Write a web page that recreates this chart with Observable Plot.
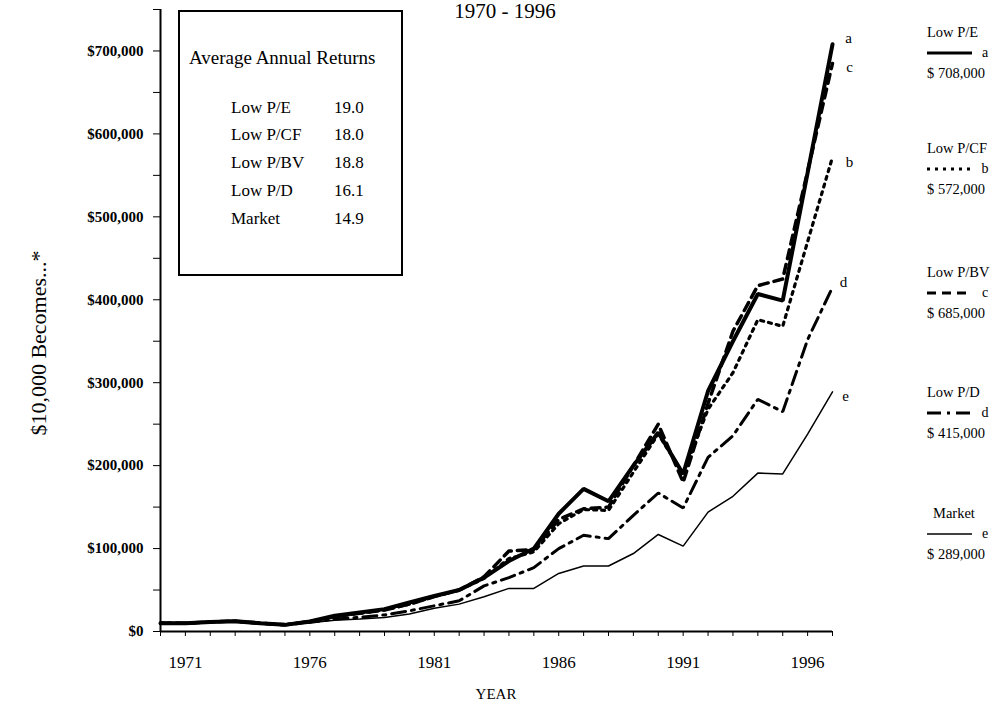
<!DOCTYPE html>
<html><head><meta charset="utf-8">
<script src="https://cdn.jsdelivr.net/npm/d3@7"></script>
<script src="https://cdn.jsdelivr.net/npm/@observablehq/plot@0.6"></script>
<style>
body{margin:0;background:#fff}
#chart{position:relative;width:1007px;height:702px;overflow:hidden}
</style>
</head><body><div id="chart"></div>
<script>
// ---- data (values in $ thousands) ----
const years = d3.range(1970, 1998);
const seriesKeys = ["a", "b", "c", "d", "e"];
const seriesNames = ["Low P/E", "Low P/CF", "Low P/BV", "Low P/D", "Market"];
const finalValues = ["$ 708,000", "$ 572,000", "$ 685,000", "$ 415,000", "$ 289,000"];
const avgReturns = ["19.0", "18.0", "18.8", "16.1", "14.9"];
const lowPE  = [10, 10, 11.5, 12.5, 10, 8, 12, 19, 23, 27, 35, 43, 50, 65, 85, 100, 142, 172, 157, 200, 240, 190, 290, 350, 407, 399, 553, 708];
const lowPCF = [10, 10, 11.5, 12.5, 10, 8, 12, 18, 22, 26, 33, 42, 50, 64, 88, 96, 130, 147, 146, 192, 238, 190, 268, 312, 376, 368, 470, 572];
const lowPBV = [10, 10, 11.5, 12.5, 10, 8, 12, 18, 22, 26, 33, 42, 50, 66, 97, 99, 135, 148, 150, 200, 250, 180, 275, 362, 417, 425, 555, 685];
const lowPD  = [10, 10, 11.5, 12.5, 10, 8, 11, 15, 17, 20, 25, 31, 37, 55, 65, 77, 100, 116, 112, 140, 167, 149, 210, 236, 280, 265, 352, 415];
const market = [10, 10, 11.5, 12.5, 10, 7.5, 10.5, 13.5, 15, 17, 21, 28, 33, 42, 52, 52, 70, 79, 79, 94, 117, 103, 144, 163, 191, 190, 238, 289];
const yTicks = d3.range(0, 750001, 50000);
const xTickLabels = [1971, 1976, 1981, 1986, 1991, 1996];

const seriesValues = [lowPE, lowPCF, lowPBV, lowPD, market];
const rows = [];
seriesKeys.forEach((k, si) => seriesValues[si].forEach((v, i) => rows.push({key: k, year: years[i], value: v * 1000})));
const ends = seriesKeys.map((k, si) => ({key: k, year: years[years.length - 1], value: seriesValues[si][years.length - 1] * 1000}));

// ---- styles ----
const style = {
  a: {strokeWidth: 4, dash: null},
  b: {strokeWidth: 3.2, dash: "3,5"},
  c: {strokeWidth: 3.5, dash: "9,6"},
  d: {strokeWidth: 3, dash: "14,6,3,6"},
  e: {strokeWidth: 1.5, dash: null}
};
const endOffset = {a: [16, -6], b: [17, 5], c: [17, 4], d: [11, -5], e: [13, 4]};
const serif = "'Liberation Serif', 'Times New Roman', serif";

const drawOrder = ["e", "d", "b", "c", "a"];
const lineMarks = drawOrder.map(k => Plot.line(rows.filter(r => r.key === k), {
  x: "year", y: "value", stroke: "black", strokeWidth: style[k].strokeWidth,
  strokeDasharray: style[k].dash || undefined, strokeLinejoin: "miter", curve: "linear"
}));
const labelMarks = seriesKeys.map(k => Plot.text(ends.filter(e => e.key === k), {
  x: "year", y: "value", text: "key", dx: endOffset[k][0], dy: endOffset[k][1],
  fontSize: 15, fill: "black", textAnchor: "middle"
}));

const plot = Plot.plot({
  width: 1007, height: 702,
  marginLeft: 160, marginRight: 175, marginTop: 9, marginBottom: 71,
  x: {domain: [1970, 1997]},
  y: {domain: [0, 750000]},
  style: {fontFamily: serif, background: "white", color: "black", overflow: "visible"},
  marks: [
    Plot.axisY(yTicks, {tickSize: 7, tickPadding: 10, fontSize: 15, fontWeight: "bold", label: null,
      tickFormat: d => d % 100000 === 0 ? "$" + d3.format(",")(d) : ""}),
    Plot.axisX(years, {tickSize: 5, tickPadding: 19, fontSize: 17, label: null,
      tickFormat: d => xTickLabels.includes(d) ? String(d) : ""}),
    Plot.ruleX([1970], {y1: 0, y2: 750000, strokeWidth: 2}),
    Plot.ruleY([0], {x1: 1970, x2: 1997, strokeWidth: 2}),
    ...lineMarks,
    ...labelMarks
  ]
});
document.getElementById("chart").appendChild(plot);

// ---- annotations ----
const svg = d3.select(plot);
const t = (x, y, txt, size, opts = {}) => svg.append("text").attr("x", x).attr("y", y)
  .attr("font-family", serif).attr("font-size", size).attr("fill", "black")
  .attr("text-anchor", opts.anchor || "start").attr("font-weight", opts.weight || "normal")
  .text(txt);

t(505, 18, "1970 - 1996", 21, {anchor: "middle"});
t(496, 699, "YEAR", 15, {anchor: "middle"});
svg.append("text").attr("transform", "translate(46,343) rotate(-90)")
  .attr("font-family", serif).attr("font-size", 22).attr("text-anchor", "middle")
  .text("$10,000 Becomes...*");

// inset box
svg.append("rect").attr("x", 179).attr("y", 11).attr("width", 223).attr("height", 264)
  .attr("fill", "white").attr("stroke", "black").attr("stroke-width", 2);
t(189, 64, "Average Annual Returns", 19);
const rowY = [107, 134, 162, 190, 218];
seriesNames.forEach((n, i) => {
  t(231, rowY[i] + 5.5, n, 17);
  t(334, rowY[i] + 5.5, avgReturns[i], 17);
});

// right legend
const legY = [32, 148, 272, 392, 513];
seriesKeys.forEach((k, i) => {
  const x0 = i === 4 ? 933 : 927;
  t(x0, legY[i] + 5, seriesNames[i], 14.5);
  svg.append("line").attr("x1", 927).attr("x2", 972).attr("y1", legY[i] + 21).attr("y2", legY[i] + 21)
    .attr("stroke", "black").attr("stroke-width", Math.min(style[k].strokeWidth, 3))
    .attr("stroke-dasharray", style[k].dash);
  t(985, legY[i] + 25, k, 14, {anchor: "middle"});
  t(927, legY[i] + 46, finalValues[i], 14.5);
});
</script>
</body></html>
